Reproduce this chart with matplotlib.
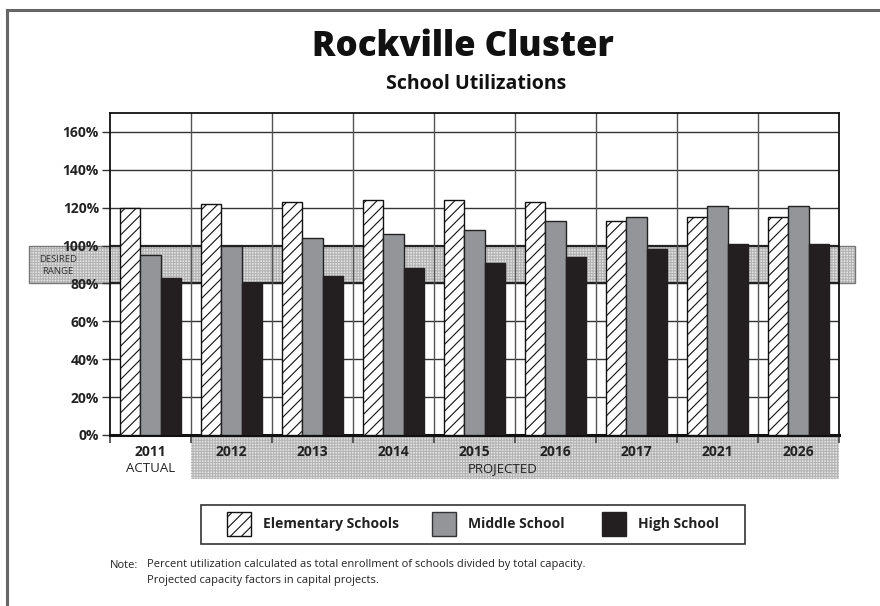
import matplotlib
matplotlib.use("Agg")
import matplotlib.pyplot as plt
from matplotlib.patches import Rectangle
from matplotlib.transforms import blended_transform_factory
import numpy as np

years = ['2011', '2012', '2013', '2014', '2015', '2016', '2017', '2021', '2026']
elementary = [120, 122, 123, 124, 124, 123, 113, 115, 115]
middle = [95, 100, 104, 106, 108, 113, 115, 121, 121]
high = [83, 80, 84, 88, 91, 94, 98, 101, 101]
yticks = [0, 20, 40, 60, 80, 100, 120, 140, 160]
desired_low, desired_high = 80, 100
series_names = ['Elementary Schools', 'Middle School', 'High School']

W, H = 880, 606
FONT = 'Open Sans'
plt.rcParams['font.family'] = [FONT, 'DejaVu Sans']
plt.rcParams['hatch.linewidth'] = 0.8

fig = plt.figure(figsize=(W / 100, H / 100), dpi=100)


def fx(px):
    return px / W


def fy(py):
    return 1 - py / H


# page frame (top and left rules)
fig.add_artist(plt.Line2D([fx(7), 1], [fy(10), fy(10)], color='#666666', lw=2.2, transform=fig.transFigure))
fig.add_artist(plt.Line2D([fx(7), fx(7)], [fy(10), 0], color='#666666', lw=2.2, transform=fig.transFigure))

fig.text(fx(463), fy(47), 'Rockville Cluster', ha='center', va='center',
         fontsize=25, fontweight='heavy', color='#111111')
fig.text(fx(476), fy(84), 'School Utilizations', ha='center', va='center',
         fontsize=14, fontweight='bold', color='#111111')

ax_l, ax_r, ax_t, ax_b = 110, 839, 113, 435
ax = fig.add_axes([fx(ax_l), fy(ax_b), (ax_r - ax_l) / W, (ax_b - ax_t) / H])
n = len(years)
x = np.arange(n)
ax.set_xlim(-0.5, n - 0.5)
ax.set_ylim(0, 170)

# desired range band, running past both sides of the plot
band_tr = blended_transform_factory(ax.transAxes, ax.transData)
x0 = (29 - ax_l) / (ax_r - ax_l)
x1 = (855 - ax_l) / (ax_r - ax_l)
ax.add_patch(Rectangle((x0, desired_low), x1 - x0, desired_high - desired_low, transform=band_tr,
                       facecolor='#e4e4e4', edgecolor='#b4b4b4', hatch='++++++', lw=0,
                       clip_on=False, zorder=0.5))
ax.add_patch(Rectangle((x0, desired_low), x1 - x0, desired_high - desired_low, transform=band_tr,
                       facecolor='none', edgecolor='#777777', lw=1.0, clip_on=False, zorder=0.6))
fig.text(fx(58), fy(259), 'DESIRED', ha='center', va='center', fontsize=6.8, color='#333333')
fig.text(fx(58), fy(271), 'RANGE', ha='center', va='center', fontsize=6.8, color='#333333')

# grid
for v in yticks[1:]:
    strong = v in (desired_low, desired_high)
    ax.axhline(v, color='#222222' if strong else '#333333', lw=1.6 if strong else 1.0, zorder=1)
for b in np.arange(0.5, n - 0.5, 1):
    ax.axvline(b, color='#555555', lw=1.0, zorder=1)

# bars
w = 0.25
ax.bar(x - w, elementary, w, facecolor='white', edgecolor='#111111', hatch='///', lw=1.0, zorder=3)
ax.bar(x, middle, w, facecolor='#939598', edgecolor='#222222', lw=1.0, zorder=3)
ax.bar(x + w, high, w, facecolor='#231f20', edgecolor='#231f20', lw=1.0, zorder=3)

for s in ['left', 'right', 'top']:
    ax.spines[s].set_linewidth(1.3)
    ax.spines[s].set_color('#111111')
ax.spines['bottom'].set_linewidth(2.2)
ax.spines['bottom'].set_color('#111111')

ax.set_yticks(yticks)
ax.set_yticklabels([f'{v}%' for v in yticks], fontsize=10, fontweight='bold', color='#222222')
ax.tick_params(axis='y', direction='out', length=6, width=1.0, color='#333333', pad=2)
ax.set_xticks(np.arange(-0.5, n, 1))
ax.set_xticklabels([])
ax.tick_params(axis='x', direction='out', length=6, width=1.2, color='#444444')

# projected-years strip under the axis
strip_tr = blended_transform_factory(ax.transData, ax.transAxes)
sy0 = -(479 - ax_b) / (ax_b - ax_t)
sy1 = -(437 - ax_b) / (ax_b - ax_t)
ax.add_patch(Rectangle((0.5, sy0), n - 1, sy1 - sy0, transform=strip_tr,
                       facecolor='#e4e4e4', edgecolor='#b4b4b4', hatch='++++++', lw=0,
                       clip_on=False, zorder=0.5))

ly = -(452 - ax_b) / (ax_b - ax_t)
sub_y = -(469 - ax_b) / (ax_b - ax_t)
for i, yr in enumerate(years):
    ax.text(i, ly, yr, transform=strip_tr, ha='center', va='center',
            fontsize=10, fontweight='bold', color='#222222')
ax.text(0, sub_y, 'ACTUAL', transform=strip_tr, ha='center', va='center', fontsize=9.5, color='#222222')
ax.text(4.35, sub_y, 'PROJECTED', transform=strip_tr, ha='center', va='center', fontsize=9.5, color='#222222')

# legend box
fig.add_artist(Rectangle((fx(201), fy(544)), fx(745) - fx(201), fy(505) - fy(544),
                         transform=fig.transFigure, facecolor='white', edgecolor='#333333', lw=1.2))
swatches = [
    dict(facecolor='white', edgecolor='#111111', hatch='///'),
    dict(facecolor='#939598', edgecolor='#333333'),
    dict(facecolor='#231f20', edgecolor='#231f20'),
]
sw_x = [227, 432, 602]
tx_x = [263, 468, 638]
for name, sty, sx, tx in zip(series_names, swatches, sw_x, tx_x):
    fig.add_artist(Rectangle((fx(sx), fy(536)), fx(sx + 24) - fx(sx), fy(512) - fy(536),
                             transform=fig.transFigure, lw=1.0, **sty))
    fig.text(fx(tx), fy(524), name, ha='left', va='center', fontsize=10,
             fontweight='bold', color='#222222')

# footnote
fig.text(fx(110), fy(565), 'Note:', ha='left', va='center', fontsize=8, color='#222222')
fig.text(fx(147), fy(565), 'Percent utilization calculated as total enrollment of schools divided by total capacity.',
         ha='left', va='center', fontsize=8, color='#222222')
fig.text(fx(147), fy(580), 'Projected capacity factors in capital projects.',
         ha='left', va='center', fontsize=8, color='#222222')

fig.savefig('out.png', dpi=100, facecolor='white')
